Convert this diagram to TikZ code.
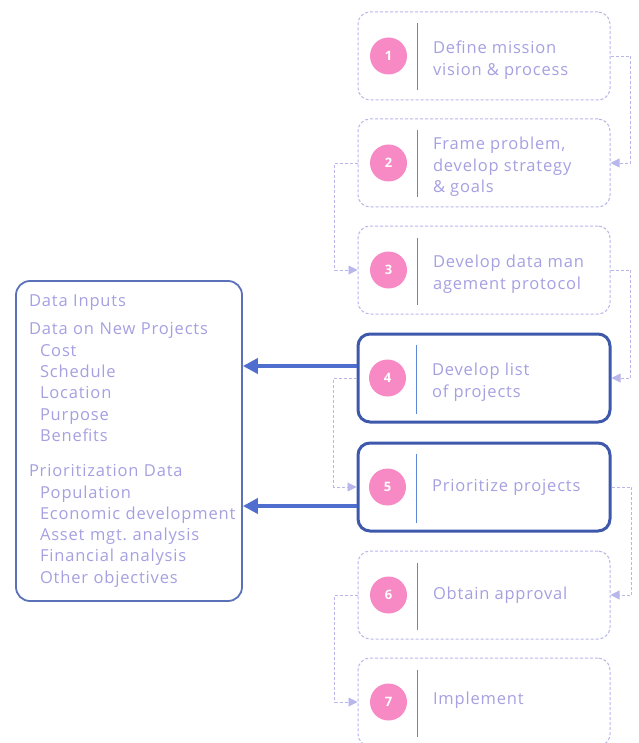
\documentclass[tikz,border=0pt]{standalone}
\usepackage{fontspec}
\setmainfont{Open Sans}[LetterSpace=5]
\usepackage{tikz}
\usetikzlibrary{arrows.meta, positioning}

\definecolor{lavtext}{RGB}{165,160,225}
\definecolor{lavline}{RGB}{185,182,236}
\definecolor{deepblue}{RGB}{62,88,172}
\definecolor{feedblue}{RGB}{80,110,205}
\definecolor{pinkdot}{RGB}{247,138,196}
\definecolor{divblue}{RGB}{95,135,215}

\begin{document}
\begin{tikzpicture}[
    x=1pt, y=-1pt,
    node distance=18pt,
    stepbox/.style={
        rectangle, rounded corners=12pt, draw=lavline, line width=1pt,
        densely dashed, minimum width=252pt, minimum height=88pt
    },
    keybox/.style={
        rectangle, rounded corners=12pt, draw=deepblue, line width=3pt,
        minimum width=252pt, minimum height=88pt
    },
    numdot/.style={
        circle, fill=pinkdot, minimum size=37pt, inner sep=0pt,
        text=white, font=\fontsize{13}{13}\selectfont\bfseries
    },
    steptext/.style={
        anchor=west, align=left, text=lavtext,
        font=\fontsize{16.5}{21.5}\selectfont
    },
    divider/.style={draw=divblue, line width=1.6pt, solid},
    link/.style={-{Triangle[length=9pt, width=9pt]}, line width=0.9pt,
        lavline, densely dashed},
    feed/.style={-{Triangle[length=15pt, width=15pt]}, line width=4pt, feedblue},
]
\useasboundingbox (0,0) rectangle (638,743);

% Steps
\node[stepbox] (s1) at (484,56) {};
\node[stepbox, below=of s1] (s2) {};
\node[stepbox, below=of s2] (s3) {};
\node[keybox, below=of s3] (s4) {};
\node[keybox, below=of s4] (s5) {};
\node[stepbox, below=of s5] (s6) {};
\node[stepbox, below=of s6] (s7) {};

% Step numbers
\node[numdot] (n1) at ([xshift=31pt]s1.west) {1};
\node[numdot] (n2) at ([xshift=31pt]s2.west) {2};
\node[numdot] (n3) at ([xshift=31pt]s3.west) {3};
\node[numdot] (n4) at ([xshift=31pt]s4.west) {4};
\node[numdot] (n5) at ([xshift=31pt]s5.west) {5};
\node[numdot] (n6) at ([xshift=31pt]s6.west) {6};
\node[numdot] (n7) at ([xshift=31pt]s7.west) {7};

% Dividers
\draw[divider] ([xshift=60pt, yshift=-12pt]s1.north west) -- ([xshift=60pt, yshift=10pt]s1.south west);
\draw[divider] ([xshift=60pt, yshift=-12pt]s2.north west) -- ([xshift=60pt, yshift=10pt]s2.south west);
\draw[divider] ([xshift=60pt, yshift=-12pt]s3.north west) -- ([xshift=60pt, yshift=10pt]s3.south west);
\draw[divider] ([xshift=60pt, yshift=-12pt]s4.north west) -- ([xshift=60pt, yshift=10pt]s4.south west);
\draw[divider] ([xshift=60pt, yshift=-12pt]s5.north west) -- ([xshift=60pt, yshift=10pt]s5.south west);
\draw[divider] ([xshift=60pt, yshift=-12pt]s6.north west) -- ([xshift=60pt, yshift=10pt]s6.south west);
\draw[divider] ([xshift=60pt, yshift=-12pt]s7.north west) -- ([xshift=60pt, yshift=10pt]s7.south west);

% Step texts
\node[steptext] (t1) at ([xshift=72pt, yshift=-4pt]s1.west) {Define mission\\vision \& process};
\node[steptext] (t2) at ([xshift=72pt, yshift=-4pt]s2.west) {Frame problem,\\develop strategy\\\& goals};
\node[steptext] (t3) at ([xshift=72pt, yshift=-4pt]s3.west) {Develop data man\\agement protocol};
\node[steptext] (t4) at ([xshift=72pt, yshift=-4pt]s4.west) {Develop list\\of projects};
\node[steptext] (t5) at ([xshift=72pt]s5.west) {Prioritize projects};
\node[steptext] (t6) at ([xshift=72pt]s6.west) {Obtain approval};
\node[steptext] (t7) at ([xshift=72pt, yshift=2pt]s7.west) {Implement};

% Data inputs
\node[rectangle, rounded corners=14pt, draw=deepblue!85, line width=1.8pt,
      minimum width=226pt, minimum height=320pt, text width=200pt,
      inner xsep=13pt, align=left, text=lavtext,
      font=\fontsize{16.5}{21.3}\selectfont] (inputs) at (129,441)
{Data Inputs\\[7pt]
 Data on New Projects\\
 \hspace*{11pt}Cost\\
 \hspace*{11pt}Schedule\\
 \hspace*{11pt}Location\\
 \hspace*{11pt}Purpose\\
 \hspace*{11pt}Benefits\\[14pt]
 Prioritization Data\\
 \hspace*{11pt}Population\\
 \hspace*{11pt}\mbox{Economic development}\\
 \hspace*{11pt}Asset mgt.\ analysis\\
 \hspace*{11pt}Financial analysis\\
 \hspace*{11pt}Other objectives};

% Flow between steps
\draw[link] (s1.east) -- ++(20pt,0) |- (s2.east);
\draw[link] (s2.west) -- ++(-23pt,0) |- (s3.west);
\draw[link] (s3.east) -- ++(20pt,0) |- (s4.east);
\draw[link] (s4.west) -- ++(-23pt,0) |- (s5.west);
\draw[link] (s5.east) -- ++(20pt,0) |- (s6.east);
\draw[link] (s6.west) -- ++(-23pt,0) |- (s7.west);

% Data feeds
\draw[feed] ([yshift=12pt]s4.west) -- ([yshift=12pt]s4.west -| inputs.east);
\draw[feed] ([yshift=-19pt]s5.west) -- ([yshift=-19pt]s5.west -| inputs.east);

\end{tikzpicture}
\end{document}
